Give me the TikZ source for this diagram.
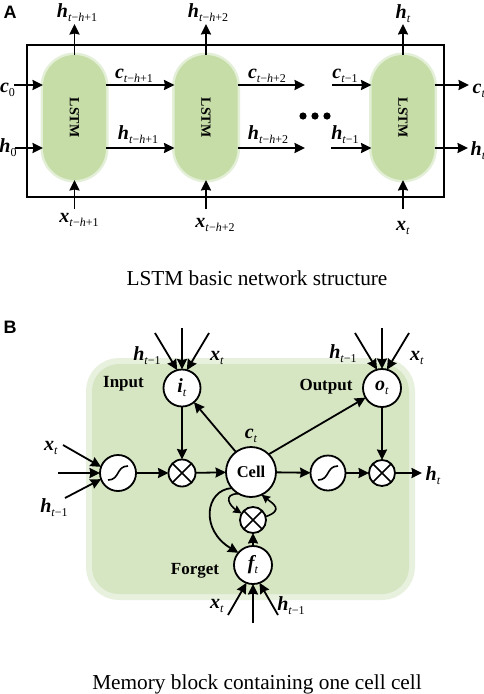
\documentclass[tikz,border=0pt]{standalone}
\usepackage{fontspec}
\usepackage{graphicx}
\setmainfont{Liberation Serif}
\newfontfamily\lsans{Liberation Sans}
\usetikzlibrary{arrows.meta,calc}
\definecolor{pillg}{HTML}{C6DDA8}
\definecolor{pillh}{HTML}{E4EFD8}
\definecolor{blkg}{HTML}{D6E5C2}
\definecolor{blkh}{HTML}{E8F0DE}
\newcommand\sbx[1]{\raisebox{-4pt}{\fontsize{12}{12}\selectfont #1}}
\newcommand\vv[2]{{\fontsize{20}{20}\selectfont\bfseries\itshape #1}\sbx{#2}}
\newcommand\ti{\textit{t}}
\newcommand\hh{\textit{h}}
\begin{document}
\begin{tikzpicture}[x=1pt,y=-1pt,
  arr/.style={line width=1.8pt,-{Stealth[length=10.5pt,width=10pt,inset=1pt]}},
  sarr/.style={line width=1.6pt,-{Stealth[length=8.5pt,width=8pt,inset=1pt]}},
  lab/.style={inner sep=0.5pt,anchor=base},
  labw/.style={inner sep=0.5pt,anchor=base west},
  pill/.style={preaction={draw=pillh,line width=5pt}, fill=pillg, rounded corners=31.5pt,
    minimum width=63pt, minimum height=125pt, inner sep=0pt, outer sep=0pt,
    font=\bfseries\fontsize{14}{14}\selectfont},
  blk/.style={preaction={draw=blkh,line width=12pt}, fill=blkg, rounded corners=27pt,
    minimum width=317pt, minimum height=230pt, inner sep=0pt, outer sep=0pt},
  crc/.style={circle, draw, line width=1.8pt, fill=white, inner sep=0pt, outer sep=0pt},
  glyph/.style={line width=1.6pt},
  word/.style={inner sep=0.5pt,anchor=base,font=\bfseries\fontsize{17}{17}\selectfont},
  pl/.style={inner sep=0pt,font=\lsans\bfseries\fontsize{18}{18}\selectfont}]
\useasboundingbox (0,0) rectangle (484,694);

% ================= A =================
\node[pl] (lA) at (10,12.5) {A};
\draw[line width=1.8pt] (27,45) rectangle (444,197);
\node[pill] (p1) at (74.5,117.5) {\rotatebox{-90}{LSTM}};
\node[pill] (p2) at (206,117.5) {\rotatebox{-90}{LSTM}};
\node[pill] (p3) at (403,117.5) {\rotatebox{-90}{LSTM}};
\coordinate (rc) at (0,85);
\coordinate (rh) at (0,148);

% labels
\node[lab] (ht1) at (77,17) {\vv{h}{\ti{}−\hh{}+1}};
\node[lab] (ht2) at (208,17) {\vv{h}{\ti{}−\hh{}+2}};
\node[lab] (ht3) at (403,18) {\vv{h}{\ti}};
\node[lab] (c0) at (7.5,92) {\vv{c}{0}};
\node[lab] (h0) at (8,152) {\vv{h}{0}};
\node[lab] (c1) at (134,78) {\vv{c}{\ti{}−\hh{}+1}};
\node[lab] (h1) at (138,139) {\vv{h}{\ti{}−\hh{}+1}};
\node[lab] (c2) at (267,78) {\vv{c}{\ti{}−\hh{}+2}};
\node[lab] (h2) at (268,139) {\vv{h}{\ti{}−\hh{}+2}};
\node[lab] (c3) at (345,78) {\vv{c}{\ti{}−1}};
\node[lab] (h3) at (345,139) {\vv{h}{\ti{}−1}};
\node[labw] (co) at (472,93) {\vv{c}{\ti}};
\node[labw] (ho) at (470,155) {\vv{h}{\ti}};
\node[lab] (x1) at (79,222) {\vv{x}{\ti{}−\hh{}+1}};
\node[lab] (x2) at (215,227) {\vv{x}{\ti{}−\hh{}+2}};
\node[lab] (x3) at (403,230) {\vv{x}{\ti}};

% arrows
\draw[arr] (p1.north) -- ++(0,-31);
\draw[arr] (p2.north) -- ++(0,-31);
\draw[arr] (p3.north) -- ++(0,-31);
\draw[arr] ($(p1.south)+(0,29)$) -- (p1.south);
\draw[arr] ($(p2.south)+(0,29)$) -- (p2.south);
\draw[arr] ($(p3.south)+(0,29)$) -- (p3.south);
\draw[arr] (14,85) -- (p1.west |- rc);
\draw[arr] (15,148) -- (p1.west |- rh);
\draw[arr] (p1.east |- rc) -- (p2.west |- rc);
\draw[arr] (p1.east |- rh) -- (p2.west |- rh);
\draw[arr] (p2.east |- rc) -- (305,85);
\draw[arr] (p2.east |- rh) -- (305,148);
\draw[arr] (332,85) -- (p3.west |- rc);
\draw[arr] (331,148) -- (p3.west |- rh);
\draw[arr] (p3.east |- rc) -- (469,85);
\draw[arr] (p3.east |- rh) -- (468,148);
\fill (303,116) circle (3.6);
\fill (315,116) circle (3.6);
\fill (327,116) circle (3.6);

\node[lab,font=\fontsize{21.3}{24}\selectfont] (capA) at (257,285) {LSTM basic network structure};

% ================= B =================
\node[pl] (lB) at (10,327) {B};
\node[blk] (mb) at (250.5,479) {};

\node[crc,minimum size=37pt] (it) at (182,388) {\vv{i}{\ti}};
\node[crc,minimum size=38pt] (ot) at (382,388) {\vv{o}{\ti}};
\node[crc,minimum size=50pt,font=\bfseries\fontsize{16.5}{16.5}\selectfont] (cell) at (251,472) {Cell};
\node[crc,minimum size=36pt] (sgL) at (118,473) {};
\node[crc,minimum size=27pt] (mxL) at (182,473) {};
\node[crc,minimum size=35pt] (sgR) at (328,473) {};
\node[crc,minimum size=26pt] (mxR) at (382,473) {};
\node[crc,minimum size=26pt] (mxC) at (253,520) {};
\node[crc,minimum size=38pt] (ft) at (253,565) {\vv{f}{\ti}};

% glyphs
\draw[glyph] (mxL.45) -- (mxL.225) (mxL.135) -- (mxL.315);
\draw[glyph] (mxR.45) -- (mxR.225) (mxR.135) -- (mxR.315);
\draw[glyph] (mxC.45) -- (mxC.225) (mxC.135) -- (mxC.315);
\draw[glyph] ($(sgL)+(-10,7)$) .. controls ($(sgL)+(2,7)$) and ($(sgL)+(-2,-7)$) .. ($(sgL)+(10,-7)$);
\draw[glyph] ($(sgR)+(-10,7)$) .. controls ($(sgR)+(2,7)$) and ($(sgR)+(-2,-7)$) .. ($(sgR)+(10,-7)$);

% words
\node[word] (win) at (123.5,387) {Input};
\node[word] (wout) at (326,390) {Output};
\node[word] (wfg) at (195,574) {Forget};

% labels
\node[lab] (iH) at (147,360) {\vv{h}{\ti{}−1}};
\node[lab] (iX) at (217,360) {\vv{x}{\ti}};
\node[lab] (oH) at (343,358) {\vv{h}{\ti{}−1}};
\node[lab] (oX) at (417,360) {\vv{x}{\ti}};
\node[lab] (sX) at (51,450) {\vv{x}{\ti}};
\node[lab] (sH) at (54,512) {\vv{h}{\ti{}−1}};
\node[lab] (hB) at (433,480) {\vv{h}{\ti}};
\node[lab] (cB) at (251,438) {\vv{c}{\ti}};
\node[lab] (fX) at (217,608) {\vv{x}{\ti}};
\node[lab] (fH) at (291,610) {\vv{h}{\ti{}−1}};

% main flow
\draw[arr] (sgL) -- (mxL);
\draw[arr] (mxL) -- (cell);
\draw[arr] (cell) -- (sgR);
\draw[arr] (sgR) -- (mxR);
\draw[arr] (mxR) -- (422,473);
\draw[arr] (it) -- (mxL);
\draw[arr] (ot) -- (mxR);
\draw[arr] (cell.127) -- (it);
\draw[arr] (cell.45) -- (ot);
\draw[arr] (ft) -- (mxC);

% gate inputs
\draw[arr] (182,328) -- (it.north);
\draw[arr] (155,333) -- (it.105);
\draw[arr] (209,333) -- (it.75);
\draw[arr] (382,328) -- (ot.north);
\draw[arr] (355,333) -- (ot.105);
\draw[arr] (409,333) -- (ot.75);
\draw[arr] (63,445) -- (sgL.160);
\draw[arr] (58,473) -- (sgL.west);
\draw[arr] (65,498) -- (sgL.200);
\draw[arr] (253,623) -- (ft.south);
\draw[arr] (228,615) -- (ft.250);
\draw[arr] (278,615) -- (ft.290);

% curves
\draw[arr] (cell.220) .. controls (205,490) and (200,530) .. (ft.140);
\draw[sarr] (cell.240) .. controls (222,494) and (230,506) .. (mxC.150);
\draw[sarr] (mxC.15) .. controls (285,510) and (272,503) .. (cell.295);

\node[lab,font=\fontsize{21.3}{24}\selectfont] (capB) at (257,689) {Memory block containing one cell cell};
\end{tikzpicture}
\end{document}
